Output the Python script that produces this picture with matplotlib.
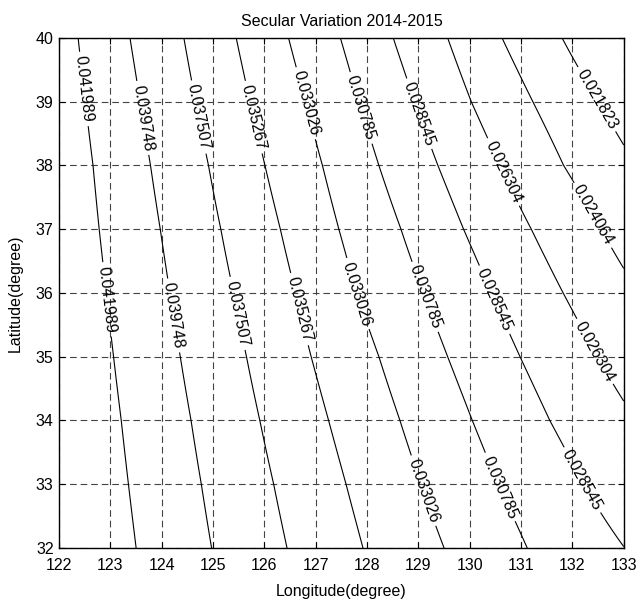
import numpy as np
import matplotlib
matplotlib.use("Agg")
import matplotlib.pyplot as plt

plt.rcParams["font.family"] = ["Liberation Sans", "DejaVu Sans"]

# Contour levels of the secular variation field
levels = [0.021823, 0.024064, 0.026304, 0.028545, 0.030785,
          0.033026, 0.035267, 0.037507, 0.039748, 0.041989]

# Latitude rows (degree) at which each contour's longitude is tabulated
lats = [40, 39, 38, 37, 36, 35, 34, 33, 32]

# Longitude (degree) where each contour crosses the latitude rows above
lon_021823 = [131.80, 132.52, 133.25, np.nan, np.nan, np.nan, np.nan, np.nan, np.nan]
lon_024064 = [130.63, 131.23, 131.83, 132.56, 133.30, np.nan, np.nan, np.nan, np.nan]
lon_026304 = [129.57, 130.03, 130.59, 131.20, 131.82, 132.49, 133.25, np.nan, np.nan]
lon_028545 = [128.51, 128.93, 129.38, 129.88, 130.42, 130.98, 131.56, 132.22, 133.02]
lon_030785 = [127.48, 127.84, 128.23, 128.66, 129.10, 129.57, 130.05, 130.55, 131.12]
lon_033026 = [126.47, 126.81, 127.13, 127.45, 127.79, 128.23, 128.64, 129.05, 129.50]
lon_035267 = [125.45, 125.72, 126.01, 126.31, 126.61, 126.91, 127.25, 127.59, 127.92]
lon_037507 = [124.43, 124.66, 124.91, 125.15, 125.40, 125.65, 125.91, 126.18, 126.44]
lon_039748 = [123.38, 123.58, 123.78, 123.97, 124.16, 124.36, 124.57, 124.77, 124.97]
lon_041989 = [122.37, 122.51, 122.66, 122.78, 122.92, 123.06, 123.21, 123.35, 123.50]

crossings = [lon_021823, lon_024064, lon_026304, lon_028545, lon_030785,
             lon_033026, lon_035267, lon_037507, lon_039748, lon_041989]

# Where each contour label sits (longitude, latitude)
label_pos = [
    (122.48, 39.20), (122.93, 35.90),
    (123.66, 38.75), (124.25, 35.65),
    (124.72, 38.76), (125.48, 35.68),
    (125.80, 38.76), (126.70, 35.75),
    (126.82, 38.98), (127.85, 36.00), (129.10, 32.90),
    (127.87, 38.90), (129.13, 35.94), (130.60, 32.96),
    (128.97, 38.80), (130.50, 35.90), (132.20, 33.07),
    (130.66, 37.90), (132.43, 35.08),
    (132.40, 37.22),
    (132.40, 39.00),
]

lon_min, lon_max, lat_min, lat_max = 122, 133, 32, 40

# Build the gridded field row by row from the contour crossings
lon_grid = np.linspace(lon_min, lon_max, 441)
table = np.array(crossings, dtype=float)          # (levels, rows)
field = []
for j in range(len(lats)):
    xs = table[:, j]
    ok = ~np.isnan(xs)
    xp = xs[ok]
    fp = np.array(levels)[ok]
    order = np.argsort(xp)
    xp, fp = xp[order], fp[order]
    row = np.interp(lon_grid, xp, fp)
    left = lon_grid < xp[0]
    right = lon_grid > xp[-1]
    gl = (fp[1] - fp[0]) / (xp[1] - xp[0])
    gr = (fp[-1] - fp[-2]) / (xp[-1] - xp[-2])
    row[left] = fp[0] + gl * (lon_grid[left] - xp[0])
    row[right] = fp[-1] + gr * (lon_grid[right] - xp[-1])
    field.append(row)
field = np.array(field)[::-1]
lat_grid = np.array(lats, dtype=float)[::-1]
LON, LAT = np.meshgrid(lon_grid, lat_grid)

fig = plt.figure(figsize=(6.43, 6.08), dpi=100)
ax = fig.add_axes([0.092, 0.0987, 0.878, 0.8388])

cs = ax.contour(LON, LAT, field, levels=levels, colors="k", linewidths=0.8)
fmt = {lv: f"{lv:.6f}" for lv in levels}
ax.clabel(cs, manual=label_pos, inline=True, fmt=fmt, fontsize=11.5,
          inline_spacing=4)

ax.set_xlim(lon_min, lon_max)
ax.set_ylim(lat_min, lat_max)
ax.set_xticks(range(lon_min, lon_max + 1))
ax.set_yticks(range(lat_min, lat_max + 1))
ax.grid(True, color="#444444", linestyle=(0, (6, 3.5)), linewidth=0.8)
ax.tick_params(direction="in", top=True, right=True, length=4,
               labelsize=11.5, width=0.8)
ax.tick_params(axis="x", pad=7)
ax.tick_params(axis="y", pad=4)
for s in ax.spines.values():
    s.set_linewidth(1.0)

ax.set_title("Secular Variation 2014-2015", fontsize=11.5, pad=9)
ax.set_xlabel("Longitude(degree)", fontsize=11.5, labelpad=8)
ax.set_ylabel("Latitude(degree)", fontsize=11.5, labelpad=9)

fig.savefig("out.png", dpi=100)
